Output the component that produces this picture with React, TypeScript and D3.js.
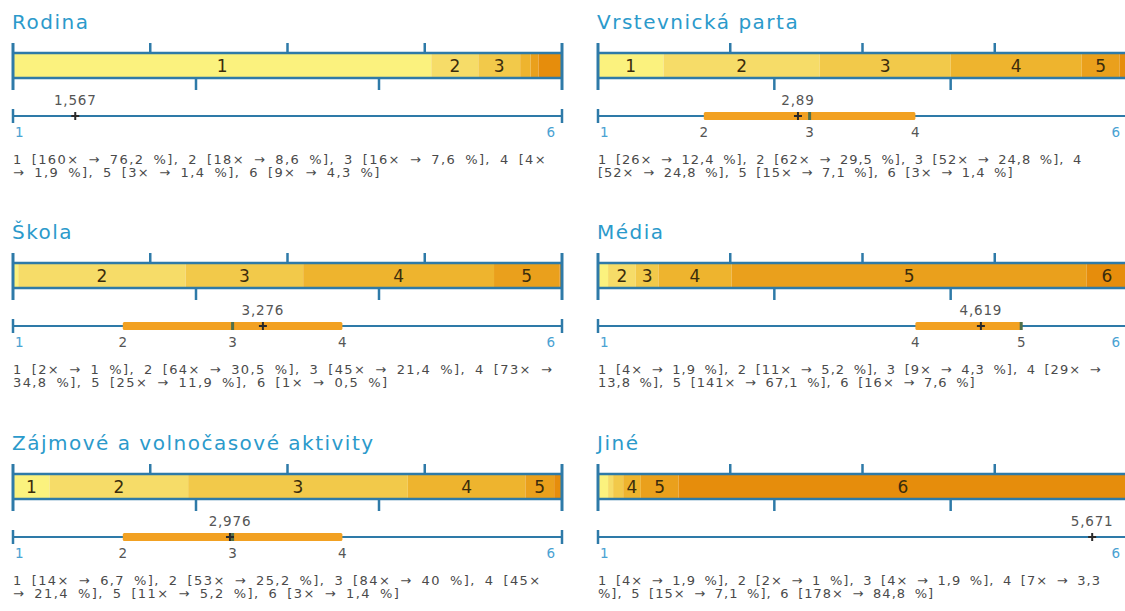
import React from 'react';
import * as d3 from 'd3';

// survey panels, reading order: left column then right column, row by row
const titles = ['Rodina', 'Vrstevnická parta', 'Škola', 'Média', 'Zájmové a volnočasové aktivity', 'Jiné'];
const categories = [1, 2, 3, 4, 5, 6];
const counts = [
  [160, 18, 16, 4, 3, 9],
  [26, 62, 52, 52, 15, 3],
  [2, 64, 45, 73, 25, 1],
  [4, 11, 9, 29, 141, 16],
  [14, 53, 84, 45, 11, 3],
  [4, 2, 4, 7, 15, 178],
];
const percents = [
  [76.2, 8.6, 7.6, 1.9, 1.4, 4.3],
  [12.4, 29.5, 24.8, 24.8, 7.1, 1.4],
  [1, 30.5, 21.4, 34.8, 11.9, 0.5],
  [1.9, 5.2, 4.3, 13.8, 67.1, 7.6],
  [6.7, 25.2, 40, 21.4, 5.2, 1.4],
  [1.9, 1, 1.9, 3.3, 7.1, 84.8],
];
const means = [1.567, 2.89, 3.276, 4.619, 2.976, 5.671];
// lower quartile, median, upper quartile
const quartiles = [
  [1, 1, 1],
  [2, 3, 4],
  [2, 3, 4],
  [4, 5, 5],
  [2, 3, 4],
  [6, 6, 6],
];
// segment numbers printed inside the stacked bar
const shownLabels = [
  [1, 2, 3],
  [1, 2, 3, 4, 5],
  [2, 3, 4, 5],
  [2, 3, 4, 5, 6],
  [1, 2, 3, 4, 5],
  [4, 5, 6],
];

const segColors = ['#fbf27e', '#f6dc68', '#f2c94a', '#eeb42e', '#eaa01c', '#e68d0c'];
const lineColor = '#2e7aa8';
const titleColor = '#2b9acb';
const endLabelColor = '#4aa2d2';
const grayText = '#555';
const font = 'DejaVu Sans, Verdana, sans-serif';

const cols = [{ x: 13, w: 549 }, { x: 598, w: 529 }];
const rowTops = [0, 210, 421];

const fmt = (v: number) => String(v).replace('.', ',');

function wrapWords(text: string, maxChars: number) {
  const words = text.split(' ');
  const lines: string[] = [];
  let cur = '';
  words.forEach(w => {
    const next = cur ? cur + ' ' + w : w;
    if (next.length > maxChars && cur) {
      lines.push(cur);
      cur = w;
    } else cur = next;
  });
  if (cur) lines.push(cur);
  return lines;
}

function Panel({ i, x0, w, top }: { i: number; x0: number; w: number; top: number }) {
  const total = d3.sum(counts[i]);
  const xBar = d3.scaleLinear().domain([0, total]).range([x0, x0 + w]);
  const xVal = d3.scaleLinear().domain([1, 6]).range([x0, x0 + w]);
  const ends = d3.cumsum(counts[i]);
  const segs = counts[i].map((c, k) => ({ k, start: ends[k] - c, end: ends[k] }));

  const barTop = top + 53;
  const barBot = top + 78;
  const axisY = top + 116;

  const [q1, med, q3] = quartiles[i];
  const innerLabels = Array.from(new Set([q1, med, q3])).filter(v => v !== 1 && v !== 6);

  const desc = categories
    .map((c, k) => `${c} [${counts[i][k]}× → ${fmt(percents[i][k])} %]`)
    .join(', ');
  const lines = wrapWords(desc, 58);
  // narrower right column squeezes its text a bit
  const descSpacing = 1.4 - (549 - w) / 50;

  const topTicks = d3.range(1, 4).map(t => x0 + (w * t) / 4);
  const botTicks = d3.range(1, 3).map(t => x0 + (w * t) / 3);

  return (
    <g>
      <text x={x0 - 1} y={top + 29} fill={titleColor} fontSize={20} letterSpacing={1.5}
        fontFamily={font}>{titles[i]}</text>

      {segs.map(s => (
        <rect key={s.k} x={xBar(s.start)} y={barTop} width={Math.max(0, xBar(s.end) - xBar(s.start))}
          height={barBot - barTop} fill={segColors[s.k]} />
      ))}
      {segs.filter(s => shownLabels[i].includes(s.k + 1)).map(s => (
        <text key={'l' + s.k} x={(xBar(s.start) + xBar(s.end)) / 2} y={barBot - 6} textAnchor="middle"
          fontSize={17} fill="#3a2c0c" fontFamily={font}>{categories[s.k]}</text>
      ))}
      <line x1={x0} x2={x0 + w} y1={barTop} y2={barTop} stroke={lineColor} strokeWidth={2.5} />
      <line x1={x0} x2={x0 + w} y1={barBot} y2={barBot} stroke={lineColor} strokeWidth={2.5} />
      <line x1={x0} x2={x0} y1={top + 43} y2={top + 90} stroke={lineColor} strokeWidth={3} />
      <line x1={x0 + w} x2={x0 + w} y1={top + 43} y2={top + 90} stroke={lineColor} strokeWidth={3} />
      {topTicks.map((t, k) => (
        <line key={'t' + k} x1={t} x2={t} y1={top + 43} y2={barTop} stroke={lineColor} strokeWidth={2.5} />
      ))}
      {botTicks.map((t, k) => (
        <line key={'b' + k} x1={t} x2={t} y1={barBot} y2={top + 90} stroke={lineColor} strokeWidth={2.5} />
      ))}

      <line x1={x0} x2={x0 + w} y1={axisY} y2={axisY} stroke={lineColor} strokeWidth={2} />
      <line x1={x0} x2={x0} y1={axisY - 7} y2={axisY + 7} stroke={lineColor} strokeWidth={2.5} />
      <line x1={x0 + w} x2={x0 + w} y1={axisY - 7} y2={axisY + 7} stroke={lineColor} strokeWidth={2.5} />
      {q3 > q1 && (
        <rect x={xVal(q1)} y={axisY - 4} width={xVal(q3) - xVal(q1)} height={8} fill="#f2a122" rx={1.5} />
      )}
      {q3 > q1 && (
        <rect x={xVal(med) - 1.5} y={axisY - 4} width={3} height={8} fill="#52704a" />
      )}
      <g stroke="#2a2a2a" strokeWidth={2}>
        <line x1={xVal(means[i]) - 4} x2={xVal(means[i]) + 4} y1={axisY} y2={axisY} />
        <line x1={xVal(means[i])} x2={xVal(means[i])} y1={axisY - 4} y2={axisY + 4} />
      </g>
      <text x={xVal(means[i])} y={top + 105} textAnchor="middle" fontSize={13.5} letterSpacing={0.8}
        fill={grayText} fontFamily={font}>{fmt(means[i])}</text>

      <text x={x0 + 2} y={top + 137} fontSize={13.5} fill={endLabelColor} fontFamily={font}>1</text>
      <text x={x0 + w - 7} y={top + 137} fontSize={13.5} fill={endLabelColor} textAnchor="end"
        fontFamily={font}>6</text>
      {innerLabels.map(v => (
        <text key={'v' + v} x={xVal(v)} y={top + 137} fontSize={13.5} fill={grayText} textAnchor="middle"
          fontFamily={font}>{v}</text>
      ))}

      {lines.map((ln, k) => (
        <text key={'d' + k} x={x0} y={top + 164 + k * 13} fontSize={13} letterSpacing={descSpacing}
          wordSpacing={3.5} fill="#4a4a4a" fontFamily={font} style={{ whiteSpace: 'pre' }}>{ln}</text>
      ))}
    </g>
  );
}

export default function App() {
  return (
    <svg width={1125} height={611} style={{ position: 'absolute', left: 0, top: 0, background: '#fff' }}>
      {titles.map((t, i) => {
        const col = cols[i % 2];
        const top = rowTops[Math.floor(i / 2)];
        return <Panel key={t} i={i} x0={col.x} w={col.w} top={top} />;
      })}
    </svg>
  );
}
